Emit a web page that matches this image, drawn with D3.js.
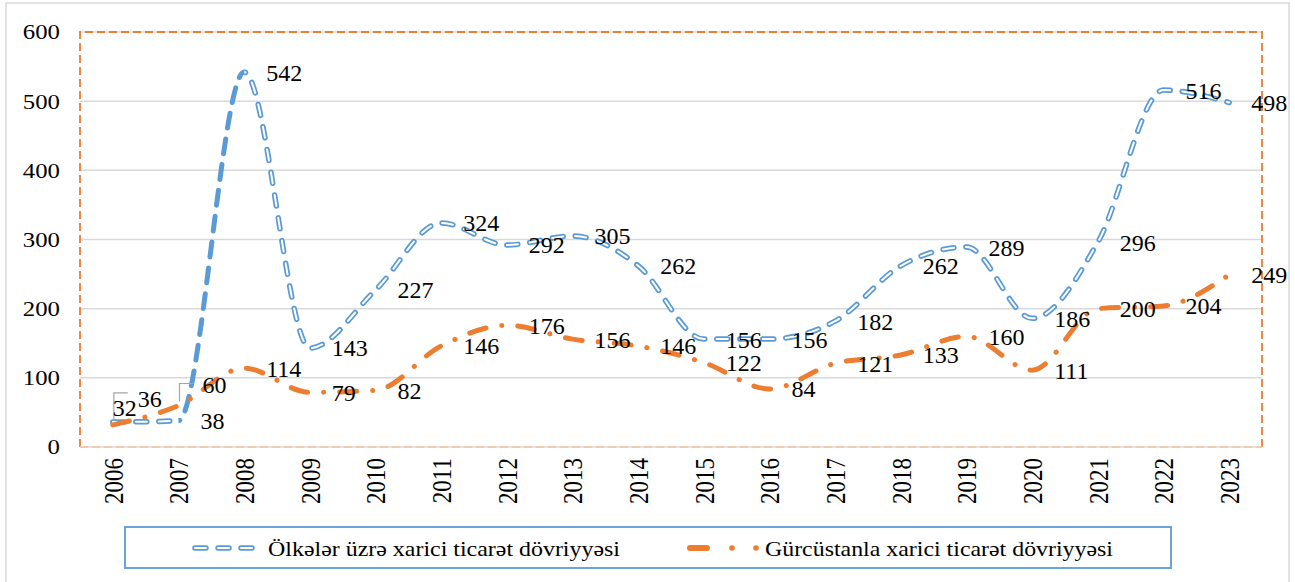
<!DOCTYPE html>
<html>
<head>
<meta charset="utf-8">
<script src="https://cdn.jsdelivr.net/npm/d3@7"></script>
<style>
  text { font-family: "Times New Roman", "Liberation Serif", Tinos, serif !important; }
</style>
</head>
<body style="margin:0">
<script>

/* Data */
/* ==== */

var years = ['2006', '2007', '2008', '2009', '2010', '2011', '2012', '2013', '2014',
             '2015', '2016', '2017', '2018', '2019', '2020', '2021', '2022', '2023'];

var olkelerValues = [36, 38, 542, 143, 227, 324, 292, 305, 262, 156, 156, 182, 262, 289, 186, 296, 516, 498];
var gurcustanValues = [32, 60, 114, 79, 82, 146, 176, 156, 146, 122, 84, 121, 133, 160, 111, 200, 204, 249];

var seriesNames = ['Ölkələr üzrə xarici ticarət dövriyyəsi', 'Gürcüstanla xarici ticarət dövriyyəsi'];

var yTicks = [0, 100, 200, 300, 400, 500, 600];


/* Layout */
/* ====== */

var width = 1295,
    height = 582,
    plot = { left: 80, right: 1262, top: 32, bottom: 447 },
    blue = '#5B9BD5',
    orange = '#ED7D31',
    grid = '#D9D9D9',
    fontStack = 'Times New Roman, Liberation Serif, Tinos, serif';

// a few labels were dragged by hand in the original chart
var labelAdjust = [
  { series: 0, year: '2006', dx: 3, dy: -24 },
  { series: 1, year: '2006', dx: -22, dy: -17, leaderTop: -15 },
  { series: 1, year: '2007', dx: 2, dy: -21, leaderTop: -1 }
];

var svg = d3.select('body').append('svg')
    .attr('width', width)
    .attr('height', height)
    .attr('font-family', fontStack);

var x = d3.scalePoint()
    .domain(years)
    .range([plot.left, plot.right])
    .padding(0.5);

var y = d3.scaleLinear()
    .domain([0, 600])
    .range([plot.bottom, plot.top]);

// Outer chart frame
svg.append('rect')
    .attr('x', 6).attr('y', 3)
    .attr('width', 1283).attr('height', 600)
    .attr('fill', 'none')
    .attr('stroke', grid)
    .attr('stroke-width', 1.5);


/* Grid and axes */
/* ============= */

svg.append('g')
  .selectAll('line')
  .data(yTicks)
  .join('line')
    .attr('x1', plot.left).attr('x2', plot.right)
    .attr('y1', d => y(d)).attr('y2', d => y(d))
    .attr('stroke', grid)
    .attr('stroke-width', 1.5);

svg.append('g')
  .selectAll('text')
  .data(yTicks)
  .join('text')
    .attr('transform', d => 'translate(60,' + y(d) + ') scale(1.18,1)')
    .attr('text-anchor', 'end')
    .attr('dy', '0.35em')
    .attr('font-family', fontStack)
    .attr('font-size', 21)
    .text(d => d);

svg.append('g')
  .selectAll('text')
  .data(years)
  .join('text')
    .attr('transform', d => 'translate(' + x(d) + ',458) scale(1.2,1) rotate(-90)')
    .attr('text-anchor', 'end')
    .attr('dy', '0.35em')
    .attr('font-family', fontStack)
    .attr('font-size', 23)
    .text(d => d);

// Plot area border (orange dashed)
var border = svg.append('g')
    .attr('fill', 'none')
    .attr('stroke-width', 1.8)
    .attr('stroke-dasharray', '8,4');

border.append('path')
    .attr('d', 'M' + plot.left + ',' + plot.bottom + 'V' + plot.top + 'H' + plot.right + 'V' + plot.bottom)
    .attr('stroke', orange);

border.append('line')
    .attr('x1', plot.left).attr('x2', plot.right)
    .attr('y1', plot.bottom).attr('y2', plot.bottom)
    .attr('stroke', '#F2CBAE');


/* Lines */
/* ===== */

var line = d3.line()
    .x(d => x(d.year))
    .y(d => y(d.value))
    .curve(d3.curveMonotoneX);

var blueData = years.map((yr, i) => ({ year: yr, value: olkelerValues[i] }));
var orangeData = years.map((yr, i) => ({ year: yr, value: gurcustanValues[i] }));

// clip: the 2007-2008 segment is drawn differently in the original
var defs = svg.append('defs');
var x07 = x('2007'), x08 = x('2008');

var outside = defs.append('clipPath').attr('id', 'clip-out');
outside.append('rect').attr('x', 0).attr('y', 0).attr('width', x07).attr('height', height);
outside.append('rect').attr('x', x08).attr('y', 0).attr('width', width - x08).attr('height', height);

defs.append('clipPath').attr('id', 'clip-in')
  .append('rect').attr('x', x07).attr('y', 0).attr('width', x08 - x07).attr('height', height);

svg.append('path')
    .attr('d', line(blueData))
    .attr('clip-path', 'url(#clip-out)')
    .attr('fill', 'none')
    .attr('stroke', blue)
    .attr('stroke-width', 5.5)
    .attr('stroke-linecap', 'round')
    .attr('stroke-linejoin', 'round')
    .attr('stroke-dasharray', '11,12');

svg.append('path')
    .attr('d', line(blueData))
    .attr('clip-path', 'url(#clip-out)')
    .attr('fill', 'none')
    .attr('stroke', '#fff')
    .attr('stroke-width', 2)
    .attr('stroke-linecap', 'round')
    .attr('stroke-dasharray', '11,12');

svg.append('path')
    .attr('d', line(blueData))
    .attr('clip-path', 'url(#clip-in)')
    .attr('fill', 'none')
    .attr('stroke', blue)
    .attr('stroke-width', 5)
    .attr('stroke-linecap', 'round')
    .attr('stroke-dasharray', '15,11');

svg.append('path')
    .attr('d', line(orangeData))
    .attr('fill', 'none')
    .attr('stroke', orange)
    .attr('stroke-width', 5)
    .attr('stroke-linecap', 'round')
    .attr('stroke-dasharray', '17,16,0.1,16');


/* Data labels */
/* =========== */

var labels = [];
[blueData, orangeData].forEach(function(data, s) {
  data.forEach(function(d) {
    var adj = labelAdjust.find(a => a.series === s && a.year === d.year) || {};
    labels.push({
      px: x(d.year),
      py: y(d.value),
      lx: x(d.year) + 22 + (adj.dx || 0),
      ly: y(d.value) + (adj.dy || 0),
      leaderTop: adj.leaderTop,
      value: d.value
    });
  });
});

// leader lines for the moved labels
svg.append('g')
  .selectAll('path')
  .data(labels.filter(d => d.leaderTop !== undefined))
  .join('path')
    .attr('d', d => 'M' + (d.px + 1) + ',' + (d.py - 4) + 'V' + (d.ly + d.leaderTop) + 'h14')
    .attr('fill', 'none')
    .attr('stroke', '#A6A6A6')
    .attr('stroke-width', 1.2);

svg.append('g')
  .selectAll('text')
  .data(labels)
  .join('text')
    .attr('x', d => d.lx)
    .attr('y', d => d.ly)
    .attr('dy', '0.35em')
    .attr('fill', '#000')
    .attr('font-family', fontStack)
    .attr('font-size', 24)
    .text(d => d.value);


/* Legend */
/* ====== */

var legend = svg.append('g');

legend.append('rect')
    .attr('x', 125).attr('y', 527)
    .attr('width', 1046).attr('height', 41)
    .attr('fill', '#fff')
    .attr('stroke', blue)
    .attr('stroke-width', 1.8);

legend.append('line')
    .attr('x1', 195).attr('x2', 254)
    .attr('y1', 548).attr('y2', 548)
    .attr('stroke', blue)
    .attr('stroke-width', 5.5)
    .attr('stroke-linecap', 'round')
    .attr('stroke-dasharray', '11,12');

legend.append('line')
    .attr('x1', 195).attr('x2', 254)
    .attr('y1', 548).attr('y2', 548)
    .attr('stroke', '#fff')
    .attr('stroke-width', 2)
    .attr('stroke-linecap', 'round')
    .attr('stroke-dasharray', '11,12');

legend.append('line')
    .attr('x1', 690).attr('x2', 707)
    .attr('y1', 548).attr('y2', 548)
    .attr('stroke', orange)
    .attr('stroke-width', 6)
    .attr('stroke-linecap', 'round');

legend.selectAll('circle')
  .data([732, 756])
  .join('circle')
    .attr('cx', d => d).attr('cy', 548)
    .attr('r', 2.8)
    .attr('fill', orange);

legend.selectAll('text')
  .data([{ x: 268, w: 352, t: seriesNames[0] }, { x: 765, w: 348, t: seriesNames[1] }])
  .join('text')
    .attr('x', d => d.x)
    .attr('y', 548)
    .attr('dy', '0.35em')
    .attr('textLength', d => d.w)
    .attr('lengthAdjust', 'spacingAndGlyphs')
    .attr('font-family', fontStack)
    .attr('font-size', 22)
    .text(d => d.t);

</script>
</body>
</html>
